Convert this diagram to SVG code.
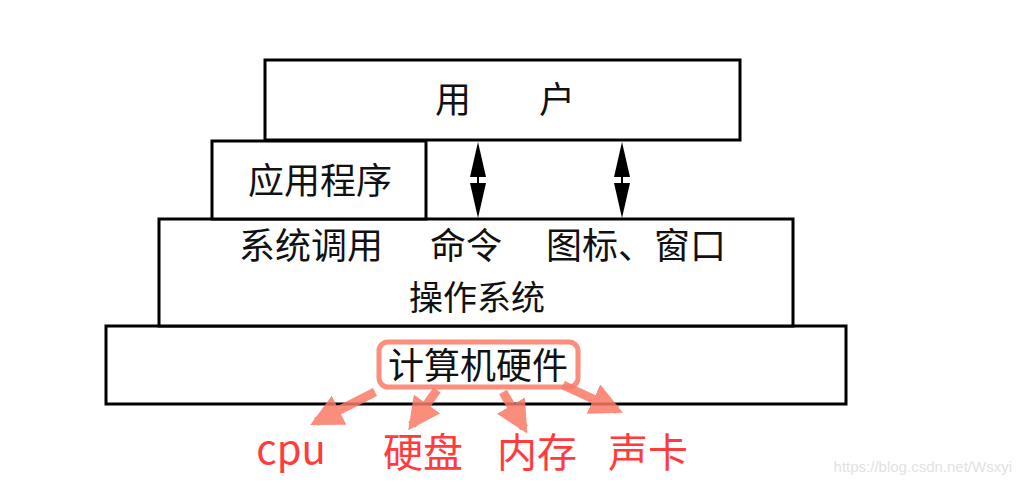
<svg xmlns="http://www.w3.org/2000/svg" width="1020" height="485" viewBox="0 0 1020 485">
<defs>
<style>
.box{fill:#fff;stroke:#000;stroke-width:3}
.t{font-family:"Noto Sans CJK SC","Noto Sans",sans-serif;font-size:36px;fill:#111;text-anchor:middle;dominant-baseline:central}
.r{font-family:"Noto Sans CJK SC","Noto Sans",sans-serif;font-size:40px;fill:#ff3b3b;text-anchor:middle}
.ra{stroke:#fa7a66;stroke-width:9;opacity:0.85;marker-end:url(#rh)}
.da{stroke:#000;stroke-width:2}
</style>
<marker id="rh" viewBox="0 0 10 10" refX="8" refY="5" markerWidth="3.6" markerHeight="3.6" orient="auto" markerUnits="strokeWidth">
<path d="M0,0 L10,5 L0,10 Z" fill="#fa7a66"/>
</marker>
</defs>
<rect width="1020" height="485" fill="#fff"/>
<g id="hardware">
<rect class="box" x="106" y="326" width="740" height="78"/>
<text class="t" x="478" y="363">计算机硬件</text>
<rect x="379" y="342" width="199" height="45" rx="9" fill="none" stroke="#fa7a66" stroke-width="5" opacity="0.85"/>
</g>
<g id="os">
<rect class="box" x="159" y="219" width="634" height="107"/>
<text class="t" x="311" y="243">系统调用</text>
<text class="t" x="466" y="243">命令</text>
<text class="t" x="636" y="243">图标、窗口</text>
<text class="t" x="477" y="295" style="font-size:34px">操作系统</text>
</g>
<g id="app">
<rect class="box" x="212" y="141" width="214" height="78"/>
<text class="t" x="320" y="178">应用程序</text>
</g>
<g id="user">
<rect class="box" x="265" y="60" width="475" height="80"/>
<text class="t" x="453" y="97">用</text>
<text class="t" x="557" y="97">户</text>
</g>
<g id="connectors">
<line class="da" x1="478" y1="160" x2="478" y2="200"/>
<polygon points="478,142 470,177 486,177"/>
<polygon points="478,218 470,183 486,183"/>
<line class="da" x1="622" y1="160" x2="622" y2="200"/>
<polygon points="622,142 614,177 630,177"/>
<polygon points="622,218 614,183 630,183"/>
<line class="ra" x1="375" y1="392" x2="316" y2="422"/>
<line class="ra" x1="437" y1="390" x2="412" y2="425"/>
<line class="ra" x1="503" y1="392" x2="524" y2="428"/>
<line class="ra" x1="563" y1="385" x2="617" y2="410"/>
</g>
<g id="labels">
<text class="r" x="291" y="464">cpu</text>
<text class="r" x="423" y="467">硬盘</text>
<text class="r" x="537" y="467">内存</text>
<text class="r" x="648" y="467">声卡</text>
</g>
<text x="1012" y="472" font-family="Liberation Sans, sans-serif" font-size="15" fill="#e2e2e2" text-anchor="end">https://blog.csdn.net/Wsxyi</text>
</svg>
